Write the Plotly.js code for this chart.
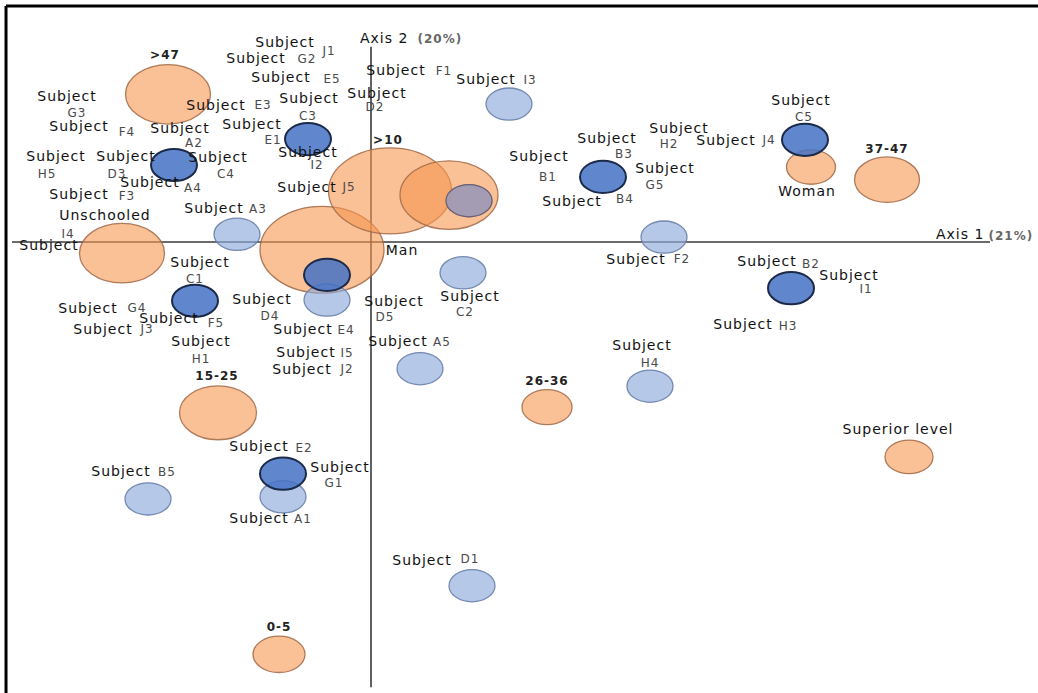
<!DOCTYPE html>
<html>
<head>
<meta charset="utf-8">
<script src="https://cdn.plot.ly/plotly-3.0.1.min.js"></script>
<style>
  html, body { margin: 0; padding: 0; background: #ffffff; }
  #chart { width: 1038px; height: 693px; }
  #chart .scatterlayer text, #chart .annotation-text { letter-spacing: 1px; }
</style>
</head>
<body>
<div id="chart"></div>
<script>
// ---------------- DATA ----------------
// Category (modality) bubbles: coordinates on Axis 1 / Axis 2 and bubble weight (radius, axis units)
const categoryNames  = ['>47', 'Unschooled', 'Man', '>10', '', 'Woman', '37-47', '15-25', '26-36', 'Superior level', '0-5'];
const categoryX      = [-2.03, -2.49, -0.49, 0.19, 0.78, 4.40, 5.16, -1.53, 1.76, 5.38, -0.92];
const categoryY      = [2.11, -0.16, -0.11, 0.73, 0.67, 1.07, 0.89, -2.44, -2.36, -3.07, -5.89];
const categoryWeight = [0.425, 0.425, 0.62, 0.615, 0.49, 0.245, 0.325, 0.385, 0.25, 0.24, 0.26];

// Subject bubbles (light = weak contribution, dark = strong contribution)
const lightSubjectX = [1.38, -1.34, 2.93, -0.44, 0.92, 0.49, 2.79, -2.23, -0.88, 1.01];
const lightSubjectY = [1.97, 0.11, 0.07, -0.83, -0.44, -1.81, -2.06, -3.67, -3.64, -4.91];
const darkSubjectX  = [-0.63, -1.97, -1.76, -0.44, 2.32, 4.34, 4.20, -0.88];
const darkSubjectY  = [1.47, 1.10, -0.84, -0.47, 0.93, 1.46, -0.66, -3.31];
const mixedSubjectX = [0.98];
const mixedSubjectY = [0.59];
const subjectWeight = 0.23;

// Subject identifiers
const subjectIds = ['A1','A2','A3','A4','A5','B1','B2','B3','B4','B5','C1','C2','C3','C4','C5',
  'D1','D2','D3','D4','D5','E1','E2','E3','E4','E5','F1','F2','F3','F4','F5',
  'G1','G2','G3','G4','G5','H1','H2','H3','H4','H5','I1','I2','I3','I4','I5',
  'J1','J2','J3','J4','J5'];

// Axis names and inertia shares
const axisNames   = ['Axis 1', 'Axis 2'];
const axisInertia = ['(21%)', '(20%)'];

// ---------------- LABEL PLACEMENT (axis units) ----------------
// [word x, word y, id x, id y]
const subjectLabelPlacement = {
  A1: [-1.12,-3.96,-0.68,-3.97], A2: [-1.91,1.61,-1.77,1.40], A3: [-1.57,0.46,-1.13,0.46],
  A4: [-2.21,0.83,-1.78,0.76], A5: [0.27,-1.44,0.71,-1.44],
  B1: [1.68,1.20,1.77,0.91], B2: [3.96,-0.30,4.40,-0.33], B3: [2.36,1.46,2.53,1.24],
  B4: [2.01,0.57,2.54,0.60], B5: [-2.50,-3.30,-2.04,-3.30],
  C1: [-1.71,-0.31,-1.76,-0.54], C2: [0.99,-0.80,0.94,-1.02], C3: [-0.62,2.04,-0.63,1.78],
  C4: [-1.53,1.19,-1.45,0.96], C5: [4.30,2.00,4.33,1.77],
  D1: [0.51,-4.57,0.99,-4.54], D2: [0.06,2.10,0.04,1.91], D3: [-2.45,1.21,-2.54,0.96],
  D4: [-1.09,-0.83,-1.01,-1.07], D5: [0.23,-0.86,0.14,-1.09],
  E1: [-1.19,1.66,-0.98,1.44], E2: [-1.12,-2.94,-0.67,-2.96], E3: [-1.55,1.94,-1.08,1.94],
  E4: [-0.68,-1.27,-0.25,-1.27], E5: [-0.90,2.33,-0.39,2.31],
  F1: [0.25,2.43,0.73,2.43], F2: [2.65,-0.26,3.11,-0.26], F3: [-2.92,0.67,-2.44,0.64],
  F4: [-2.92,1.63,-2.44,1.56], F5: [-2.02,-1.11,-1.55,-1.17],
  G1: [-0.31,-3.23,-0.37,-3.46], G2: [-1.15,2.61,-0.64,2.60], G3: [-3.04,2.07,-2.94,1.83],
  G4: [-2.83,-0.96,-2.34,-0.96], G5: [2.94,1.03,2.84,0.80],
  H1: [-1.70,-1.44,-1.70,-1.69], H2: [3.08,1.61,2.98,1.38], H3: [3.72,-1.20,4.17,-1.21],
  H4: [2.71,-1.50,2.79,-1.74], H5: [-3.15,1.21,-3.24,0.96],
  I1: [4.78,-0.50,4.95,-0.69], I2: [-0.63,1.27,-0.54,1.08], I3: [1.15,2.30,1.59,2.30],
  I4: [-3.22,-0.07,-3.03,0.10], I5: [-0.65,-1.60,-0.24,-1.60],
  J1: [-0.86,2.83,-0.42,2.71], J2: [-0.69,-1.83,-0.24,-1.83], J3: [-2.68,-1.26,-2.24,-1.26],
  J4: [3.55,1.44,3.98,1.44], J5: [-0.64,0.77,-0.22,0.77]
};
// [x, y, bold]
const categoryLabelPlacement = {
  '>47': [-2.06, 2.66, true], '>10': [0.17, 1.44, true], '37-47': [5.16, 1.31, true],
  '15-25': [-1.54, -1.93, true], '26-36': [1.76, -2.00, true], '0-5': [-0.92, -5.51, true],
  'Unschooled': [-2.66, 0.36, false], 'Woman': [4.36, 0.70, false], 'Man': [0.31, -0.14, false],
  'Superior level': [5.27, -2.70, false]
};

// ---------------- STYLES ----------------
const FONT = 'DejaVu Sans, Open Sans, sans-serif';
const styles = {
  category: { fill: 'rgba(246,150,80,0.60)', line: 'rgba(160,105,70,0.85)', width: 1.3 },
  mixed:    { fill: 'rgba(160,155,180,0.95)', line: 'rgba(95,90,115,0.9)', width: 1.3 },
  light:    { fill: 'rgba(143,170,220,0.65)', line: 'rgba(105,128,170,0.9)', width: 1.3 },
  dark:     { fill: 'rgba(68,114,196,0.85)', line: '#1c2a4a', width: 2 }
};

function bubbleShape(x, y, r, st) {
  return { type: 'circle', xref: 'x', yref: 'y', layer: 'below',
    x0: x - r, x1: x + r, y0: y - r, y1: y + r,
    fillcolor: st.fill, line: { color: st.line, width: st.width } };
}

const shapes = [];
// axes of the factorial plane
shapes.push({ type: 'line', xref: 'x', yref: 'y', layer: 'below', x0: 0, x1: 0, y0: -6.36, y1: 2.79,
  line: { color: '#3a3a3a', width: 1.6 } });
shapes.push({ type: 'line', xref: 'x', yref: 'y', layer: 'below', x0: -3.59, x1: 6.19, y0: 0, y1: 0,
  line: { color: '#3a3a3a', width: 1.6 } });
// bubbles
mixedSubjectX.forEach((x, i) => shapes.push(bubbleShape(x, mixedSubjectY[i], subjectWeight, styles.light)));
categoryX.forEach((x, i) => shapes.push(bubbleShape(x, categoryY[i], categoryWeight[i], styles.category)));
mixedSubjectX.forEach((x, i) => shapes.push(bubbleShape(x, mixedSubjectY[i], subjectWeight, styles.mixed)));
lightSubjectX.forEach((x, i) => shapes.push(bubbleShape(x, lightSubjectY[i], subjectWeight, styles.light)));
darkSubjectX.forEach((x, i) => shapes.push(bubbleShape(x, darkSubjectY[i], subjectWeight, styles.dark)));
// picture frame (top and left edges)
shapes.push({ type: 'line', xref: 'paper', yref: 'paper', x0: 0.0058, x1: 1, y0: 0.9913, y1: 0.9913,
  line: { color: '#000', width: 3 } });
shapes.push({ type: 'line', xref: 'paper', yref: 'paper', x0: 0.0058, x1: 0.0058, y0: 0, y1: 0.9913,
  line: { color: '#000', width: 3 } });

// ---------------- TRACES ----------------
const wordTrace = {
  type: 'scatter', mode: 'text', hoverinfo: 'skip', cliponaxis: false,
  x: subjectIds.map(id => subjectLabelPlacement[id][0]),
  y: subjectIds.map(id => subjectLabelPlacement[id][1]),
  text: subjectIds.map(() => 'Subject'),
  textposition: 'middle center',
  textfont: { family: FONT, size: 14, color: '#111111' }
};
const idTrace = {
  type: 'scatter', mode: 'text', hoverinfo: 'skip', cliponaxis: false,
  x: subjectIds.map(id => subjectLabelPlacement[id][2]),
  y: subjectIds.map(id => subjectLabelPlacement[id][3]),
  text: subjectIds,
  textposition: 'middle center',
  textfont: { family: FONT, size: 12, color: '#4a4a4a' }
};
const namedCats = categoryNames.filter(n => n && categoryLabelPlacement[n]);
const boldCats = namedCats.filter(n => categoryLabelPlacement[n][2]);
const plainCats = namedCats.filter(n => !categoryLabelPlacement[n][2]);
const boldCatTrace = {
  type: 'scatter', mode: 'text', hoverinfo: 'skip', cliponaxis: false,
  x: boldCats.map(n => categoryLabelPlacement[n][0]),
  y: boldCats.map(n => categoryLabelPlacement[n][1]),
  text: boldCats, textposition: 'middle center',
  textfont: { family: FONT, size: 12, color: '#222222', weight: 'bold' }
};
const plainCatTrace = {
  type: 'scatter', mode: 'text', hoverinfo: 'skip', cliponaxis: false,
  x: plainCats.map(n => categoryLabelPlacement[n][0]),
  y: plainCats.map(n => categoryLabelPlacement[n][1]),
  text: plainCats, textposition: 'middle center',
  textfont: { family: FONT, size: 14, color: '#111111' }
};

const annotations = [
  { xref: 'x', yref: 'y', x: 5.89, y: 0.11, text: axisNames[0], showarrow: false,
    font: { family: FONT, size: 14, color: '#111111' } },
  { xref: 'x', yref: 'y', x: 6.40, y: 0.09, text: axisInertia[0], showarrow: false,
    font: { family: FONT, size: 12, color: '#666666', weight: 'bold' } },
  { xref: 'x', yref: 'y', x: 0.13, y: 2.91, text: axisNames[1], showarrow: false,
    font: { family: FONT, size: 14, color: '#111111' } },
  { xref: 'x', yref: 'y', x: 0.69, y: 2.90, text: axisInertia[1], showarrow: false,
    font: { family: FONT, size: 12, color: '#666666', weight: 'bold' } }
];

const layout = {
  width: 1038, height: 693, autosize: false,
  margin: { l: 0, r: 0, t: 0, b: 0, pad: 0 },
  paper_bgcolor: '#ffffff', plot_bgcolor: '#ffffff',
  showlegend: false,
  xaxis: { range: [-3.71, 6.67], visible: false, fixedrange: true },
  yaxis: { range: [-6.443, 3.457], visible: false, fixedrange: true },
  shapes: shapes,
  annotations: annotations
};

Plotly.newPlot('chart', [wordTrace, idTrace, boldCatTrace, plainCatTrace], layout,
  { displayModeBar: false, staticPlot: true });
</script>
</body>
</html>
